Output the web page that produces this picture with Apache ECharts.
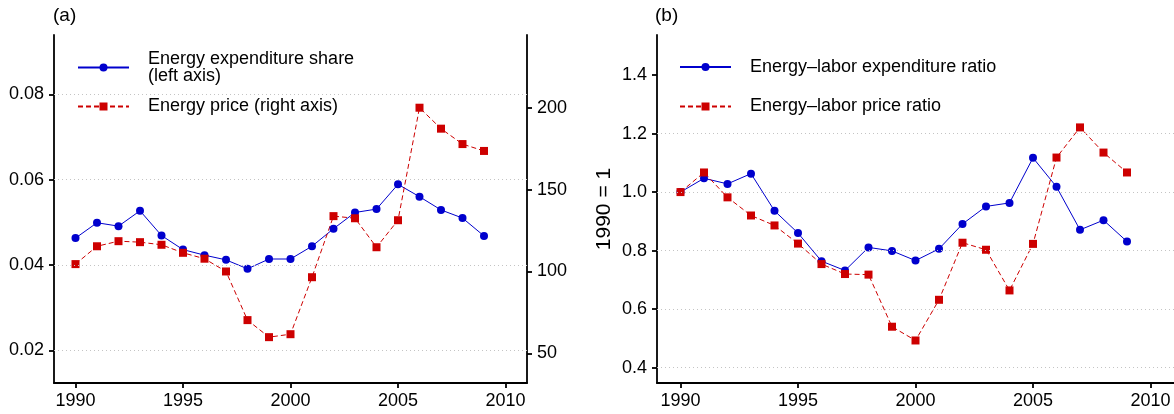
<!DOCTYPE html>
<html>
<head>
<meta charset="utf-8">
<script src="https://cdn.jsdelivr.net/npm/echarts@6/dist/echarts.min.js"></script>
<style>
  html, body { margin: 0; padding: 0; background: #fff; }
  #chart { width: 1174px; height: 414px; }
</style>
</head>
<body>
<div id="chart"></div>
<script>
// Years of observation
const years = [1990, 1991, 1992, 1993, 1994, 1995, 1996, 1997, 1998, 1999,
               2000, 2001, 2002, 2003, 2004, 2005, 2006, 2007, 2008, 2009];

// Panel (a): energy expenditure share (left axis) and energy price index (right axis)
const expenditureShare = [0.0463, 0.0499, 0.0491, 0.0527, 0.0469, 0.0436, 0.0423, 0.0412, 0.0391, 0.0414,
                          0.0414, 0.0444, 0.0485, 0.0523, 0.0531, 0.0589, 0.0560, 0.0529, 0.0510, 0.0468];
const energyPrice = [104.5, 115.4, 118.5, 117.9, 116.3, 111.4, 107.8, 100.0, 70.3, 59.9,
                     61.7, 96.5, 133.8, 132.5, 114.8, 131.3, 200.0, 187.2, 177.8, 173.6];

// Panel (b): energy-labor ratios, 1990 = 1
const expenditureRatio = [1.000, 1.047, 1.028, 1.063, 0.936, 0.860, 0.764, 0.732, 0.811, 0.799,
                          0.766, 0.806, 0.891, 0.951, 0.963, 1.117, 1.018, 0.871, 0.904, 0.831];
const priceRatio = [1.000, 1.067, 0.982, 0.920, 0.886, 0.824, 0.754, 0.720, 0.718, 0.540,
                    0.493, 0.632, 0.827, 0.803, 0.664, 0.823, 1.118, 1.221, 1.135, 1.067];

// Tick values
const yearTicks = [1990, 1995, 2000, 2005, 2010];
const shareTicks = [0.02, 0.04, 0.06, 0.08];
const priceTicks = [50, 100, 150, 200];
const ratioTicks = [0.4, 0.6, 0.8, 1.0, 1.2, 1.4];
const ratioGrid = [0.4, 0.6, 0.8, 1.0, 1.2];

const seriesNames = {
  share: 'Energy expenditure share\n(left axis)',
  price: 'Energy price (right axis)',
  expRatio: 'Energy\u2013labor expenditure ratio',
  priceRatio: 'Energy\u2013labor price ratio'
};

const FONT = '"Liberation Sans", Arial, Helvetica, sans-serif';
const BLUE = '#0000cd';
const RED = '#cd0000';

const pairs = (vals) => years.map((y, i) => [y, vals[i]]);

const axisLine = { show: true, lineStyle: { color: '#000', width: 1.8 } };
const axisTick = (vals) => ({ show: true, length: 5, lineStyle: { color: '#000', width: 1.8 }, customValues: vals });
const axisLabel = (vals, margin, fmt) => ({
  show: true, color: '#000', fontFamily: FONT, fontSize: 18, margin: margin,
  customValues: vals, formatter: fmt
});

const gridLines = (vals) => ({
  silent: true,
  symbol: ['none', 'none'],
  label: { show: false },
  lineStyle: { type: [1, 3], color: '#c4c4c4', width: 1 },
  data: vals.map(v => ({ yAxis: v }))
});

const xAxisFor = (gridIndex) => ({
  type: 'value', gridIndex: gridIndex, min: 1989, max: 2011,
  axisLine: axisLine, axisTick: axisTick(yearTicks),
  axisLabel: axisLabel(yearTicks, 9, v => String(v)),
  splitLine: { show: false }
});

const blueLine = { color: BLUE, width: 1 };
const redLine = { color: RED, width: 1, type: [5, 3] };

const legendItem = (name, left, top) => ({
  orient: 'vertical', left: left, top: top, padding: 0,
  itemWidth: 51, itemHeight: 10, icon: null,
  data: [name],
  textStyle: { color: '#000', fontFamily: FONT, fontSize: 18, lineHeight: 17, padding: [0, 0, 0, 14] },
  selectedMode: false
});

const option = {
  animation: false,
  backgroundColor: '#fff',
  title: [
    { text: '(a)', left: 53, top: 6, padding: 0,
      textStyle: { fontFamily: FONT, fontSize: 19, fontWeight: 'normal', color: '#000' } },
    { text: '(b)', left: 655, top: 6, padding: 0,
      textStyle: { fontFamily: FONT, fontSize: 19, fontWeight: 'normal', color: '#000' } }
  ],
  grid: [
    { left: 54, top: 35, width: 473, height: 348 },
    { left: 657, top: 35, width: 517, height: 348 }
  ],
  xAxis: [xAxisFor(0), xAxisFor(1)],
  yAxis: [
    {
      type: 'value', gridIndex: 0, position: 'left', min: 0.01234, max: 0.0939,
      axisLine: axisLine, axisTick: axisTick(shareTicks),
      axisLabel: axisLabel(shareTicks, 10, v => v.toFixed(2)),
      splitLine: { show: false }
    },
    {
      type: 'value', gridIndex: 0, position: 'right', min: 31.9, max: 244.4,
      axisLine: axisLine, axisTick: axisTick(priceTicks),
      axisLabel: axisLabel(priceTicks, 10, v => String(Math.round(v))),
      splitLine: { show: false }
    },
    {
      type: 'value', gridIndex: 1, position: 'left', min: 0.3477, max: 1.5367,
      name: '1990 = 1', nameLocation: 'middle', nameRotate: 90, nameGap: 42,
      nameTextStyle: { color: '#000', fontFamily: FONT, fontSize: 21 },
      axisLine: axisLine, axisTick: axisTick(ratioTicks),
      axisLabel: axisLabel(ratioTicks, 10, v => v.toFixed(1)),
      splitLine: { show: false }
    }
  ],
  legend: [
    legendItem(seriesNames.share, 77, 50),
    legendItem(seriesNames.price, 77, 97.5),
    legendItem(seriesNames.expRatio, 679, 58),
    legendItem(seriesNames.priceRatio, 679, 97.5)
  ],
  // white backing behind the legends, over the dotted grid lines
  graphic: [
    { type: 'rect', z: 3, silent: true, shape: { x: 56, y: 45, width: 304, height: 75 }, style: { fill: '#fff' } },
    { type: 'rect', z: 3, silent: true, shape: { x: 663, y: 45, width: 334, height: 95 }, style: { fill: '#fff' } }
  ],
  series: [
    {
      name: seriesNames.share, type: 'line', xAxisIndex: 0, yAxisIndex: 0,
      data: pairs(expenditureShare),
      symbol: 'circle', symbolSize: 8, showAllSymbol: true,
      lineStyle: blueLine, itemStyle: { color: BLUE },
      markLine: gridLines(shareTicks)
    },
    {
      name: seriesNames.price, type: 'line', xAxisIndex: 0, yAxisIndex: 1,
      data: pairs(energyPrice),
      symbol: 'rect', symbolSize: 8, showAllSymbol: true,
      lineStyle: redLine, itemStyle: { color: RED }
    },
    {
      name: seriesNames.expRatio, type: 'line', xAxisIndex: 1, yAxisIndex: 2,
      data: pairs(expenditureRatio),
      symbol: 'circle', symbolSize: 8, showAllSymbol: true,
      lineStyle: blueLine, itemStyle: { color: BLUE },
      markLine: gridLines(ratioGrid)
    },
    {
      name: seriesNames.priceRatio, type: 'line', xAxisIndex: 1, yAxisIndex: 2,
      data: pairs(priceRatio),
      symbol: 'rect', symbolSize: 8, showAllSymbol: true,
      lineStyle: redLine, itemStyle: { color: RED }
    }
  ]
};

const chart = echarts.init(document.getElementById('chart'), null, { renderer: 'canvas' });
chart.setOption(option);
</script>
</body>
</html>
